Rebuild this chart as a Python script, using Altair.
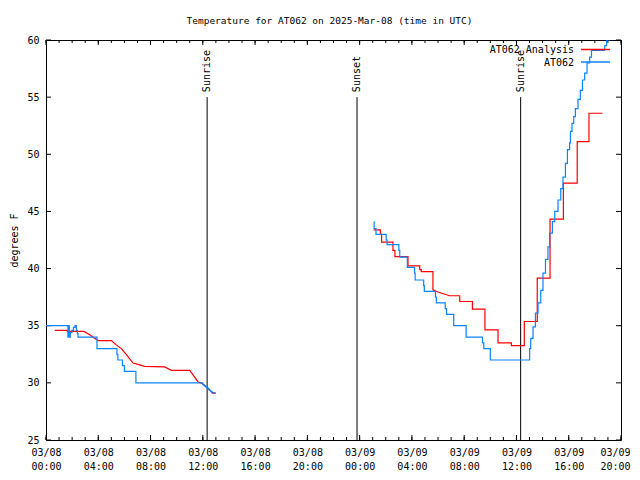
import altair as alt
import pandas as pd

FONT = "DejaVu Sans Mono"
TITLE = "Temperature for AT062 on 2025-Mar-08 (time in UTC)"
Y_TITLE = "degrees F"
SERIES = ["AT062 Analysis", "AT062"]
RED = "#ff0000"
BLUE = "#0a84ff"

# hours since 2025-03-08 00:00 UTC, temperature (deg F)
obs_day1 = [
    (0.0, 35.0), (1.68, 34.0), (1.72, 35.0), (1.78, 34.0), (1.86, 34.4),
    (1.98, 34.6), (2.1, 34.85), (2.22, 35.0), (2.32, 34.6), (2.4, 34.3),
    (2.45, 34.0), (3.9, 33.0), (5.43, 32.5), (5.5, 32.0), (5.85, 31.5),
    (6.0, 31.0), (6.88, 30.0), (12.0, 29.85), (12.1, 29.75), (12.2, 29.65),
    (12.3, 29.55), (12.4, 29.45), (12.5, 29.35), (12.6, 29.25), (12.7, 29.15),
    (12.91, 29.1),
]
obs_day2 = [
    (25.10, 44.1), (25.11, 43.5), (25.25, 43.0), (26.03, 42.5), (26.1, 42.1),
    (27.0, 41.6), (27.07, 41.0), (27.65, 40.1), (28.2, 39.6), (28.25, 39.0),
    (28.9, 38.5), (28.95, 38.0), (29.8, 37.5), (29.87, 37.0), (30.55, 36.5),
    (30.65, 36.0), (31.2, 35.0), (32.15, 34.0), (33.4, 33.5), (33.5, 33.0),
    (34.0, 32.0), (37.01, 33.0), (37.09, 33.9), (37.27, 34.9), (37.45, 36.1),
    (37.65, 37.0), (37.86, 38.1), (38.03, 39.6), (38.22, 40.8), (38.41, 41.9),
    (38.54, 43.1), (38.75, 44.1), (38.93, 45.0), (39.18, 46.0), (39.39, 47.0),
    (39.56, 48.0), (39.75, 49.2), (39.9, 50.4), (40.07, 51.0), (40.13, 52.0),
    (40.25, 52.7), (40.38, 53.3), (40.51, 54.0), (40.71, 54.8), (40.89, 55.6),
    (41.05, 56.5), (41.22, 57.1), (41.4, 58.0), (41.6, 58.5), (41.74, 59.1),
    (42.75, 59.5), (42.9, 60.0), (43.12, 60.4), (43.3, 60.4),
]
ana_day1 = [
    (0.67, 34.6), (1.64, 34.6), (1.64, 34.5), (2.91, 34.5), (3.34, 34.2),
    (3.98, 33.7), (5.0, 33.7), (5.4, 33.3), (5.77, 33.0), (6.15, 32.46),
    (6.66, 31.73), (7.1, 31.6), (7.55, 31.45), (9.08, 31.4), (9.6, 31.1),
    (11.0, 31.1), (11.63, 30.1), (12.0, 29.9), (12.4, 29.5), (12.75, 29.1),
    (13.0, 29.1),
]
ana_day2 = [
    (25.08, 43.39), (25.59, 43.39), (25.59, 43.0), (25.68, 43.0), (25.68, 42.31),
    (26.55, 42.31), (26.55, 41.6), (26.7, 41.6), (26.7, 41.05), (27.7, 41.05),
    (27.7, 40.24), (28.6, 40.24), (28.6, 39.9), (28.72, 39.9), (28.72, 39.74),
    (29.61, 39.74), (29.61, 38.14), (30.0, 37.95), (30.4, 37.8), (30.89, 37.62),
    (31.66, 37.62), (31.66, 37.12), (32.63, 37.12), (32.63, 36.45), (33.59, 36.45),
    (33.59, 34.64), (34.59, 34.64), (34.59, 33.5), (35.61, 33.5), (35.61, 33.25),
    (36.6, 33.25), (36.6, 35.37), (37.59, 35.37), (37.59, 39.16), (38.57, 39.16),
    (38.57, 44.32), (39.59, 44.32), (39.59, 47.47), (40.65, 47.47), (40.65, 51.11),
    (41.55, 51.11), (41.55, 53.59), (42.58, 53.59),
]
event_hours = [12.33, 23.80, 36.32]
event_labels = ["Sunrise", "Sunset", "Sunrise"]
x_major = list(range(0, 45, 4))
x_minor = list(range(0, 45))
y_ticks = list(range(25, 61, 5))


def frame(segs):
    rows = []
    i = 0
    for s, seg in enumerate(segs):
        for h, t in seg:
            rows.append({"h": h, "temp": t, "seg": s, "i": i})
            i += 1
    return pd.DataFrame(rows)


obs = frame([obs_day1, obs_day2])
ana = frame([ana_day1, ana_day2])
ev = pd.DataFrame({"h": event_hours, "label": event_labels})

W, H = 575, 400
xscale = alt.Scale(domain=[0, 44], nice=False, zero=False)
yscale = alt.Scale(domain=[25, 60], nice=False, zero=False)
label_expr = ("['03/' + (datum.value < 24 ? '08' : '09'), "
              "(datum.value % 24 < 10 ? '0' : '') + (datum.value % 24) + ':00']")
xaxis = alt.Axis(values=x_major, labelExpr=label_expr, title=None, ticks=False,
                 domain=False, grid=False, labelPadding=7, labelFont=FONT,
                 labelFontSize=10, labelColor="black", labelLineHeight=14,
                 labelAngle=0, labelOverlap=False, labelFlush=False,
                 labelOffset={"condition": {"test": "datum.value >= 44", "value": -6},
                              "value": 0})
yaxis = alt.Axis(values=y_ticks, title=Y_TITLE, ticks=False, domain=False,
                 grid=False, labelPadding=7, labelFont=FONT, labelFontSize=10,
                 labelColor="black", titleFont=FONT, titleFontSize=10,
                 titleFontWeight="normal", titleColor="black", titleAngle=270,
                 titleX=-32, titleY=H / 2, titleAlign="center",
                 titleBaseline="middle")

X = alt.X("h:Q", scale=xscale, axis=xaxis)
Y = alt.Y("temp:Q", scale=yscale, axis=yaxis)

ana_line = alt.Chart(ana).mark_line(color=RED, strokeWidth=1.2, clip=True).encode(
    x=X, y=Y, detail="seg:N", order="i:Q")
obs_line = alt.Chart(obs).mark_line(color=BLUE, strokeWidth=1.2, clip=True,
                                    interpolate="step-after").encode(
    x=X, y=Y, detail="seg:N", order="i:Q")

ev_rule = alt.Chart(ev).mark_rule(color="black", strokeWidth=1).encode(
    x=X, y=alt.YDatum(55, scale=yscale), y2=alt.Y2Datum(25))
ev_text = alt.Chart(ev).mark_text(angle=270, align="left", baseline="middle",
                                  dx=5, font=FONT, fontSize=10,
                                  color="black").encode(
    x=X, y=alt.YDatum(55, scale=yscale), text="label:N")

xmaj = pd.DataFrame({"h": x_major})
xmin = pd.DataFrame({"h": x_minor})
yt = pd.DataFrame({"temp": y_ticks})
tick_layers = [
    alt.Chart(xmaj).mark_rule(color="black").encode(x=X, y=alt.value(H), y2=alt.value(H - 5)),
    alt.Chart(xmaj).mark_rule(color="black").encode(x=X, y=alt.value(0), y2=alt.value(5)),
    alt.Chart(xmin).mark_rule(color="black").encode(x=X, y=alt.value(H), y2=alt.value(H - 3)),
    alt.Chart(xmin).mark_rule(color="black").encode(x=X, y=alt.value(0), y2=alt.value(3)),
    alt.Chart(yt).mark_rule(color="black").encode(y=Y, x=alt.value(0), x2=alt.value(5)),
    alt.Chart(yt).mark_rule(color="black").encode(y=Y, x=alt.value(W), x2=alt.value(W - 5)),
]

leg_layers = []
for k, (name, col) in enumerate(zip(SERIES, [RED, BLUE])):
    d = pd.DataFrame({"label": [name]})
    ypos = 10 + 12.5 * k
    leg_layers.append(alt.Chart(d).mark_text(align="right", baseline="middle",
                                             font=FONT, fontSize=10,
                                             color="black").encode(
        x=alt.value(528), y=alt.value(ypos), text="label:N"))
    leg_layers.append(alt.Chart(d).mark_rule(color=col, strokeWidth=1.5).encode(
        x=alt.value(535), x2=alt.value(564), y=alt.value(ypos - 0.5)))

title_df = pd.DataFrame({"label": [TITLE]})
title_layer = alt.Chart(title_df).mark_text(
    align="center", baseline="alphabetic", font=FONT, fontSize=9.5,
    color="black").encode(x=alt.value(W / 2 - 4), y=alt.value(-16),
                          text="label:N")

chart = alt.layer(
    *tick_layers, ev_rule, ev_text, ana_line, obs_line, *leg_layers, title_layer
).properties(
    width=W, height=H,
    autosize=alt.AutoSizeParams(type="none"),
    padding={"left": 38, "top": 32, "right": 11, "bottom": 32},
    background="white",
).configure_view(stroke="black", strokeWidth=1)

chart.save("out.html", embed_options={"renderer": "svg", "actions": False})
